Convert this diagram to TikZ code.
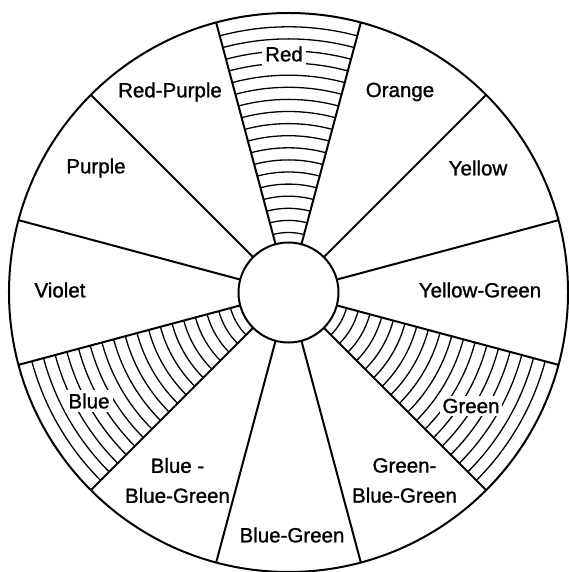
\documentclass[tikz,border=0pt]{standalone}
\usepackage{fontspec}
\setmainfont{Liberation Sans}
\newfontfamily\wheelfont[FakeBold=1.2]{Liberation Sans}
\begin{document}
\begin{tikzpicture}[x=1pt,y=1pt,
  rim/.style={line width=2pt},
  hatch/.style={line width=1.3pt},
  lbl/.style={font=\wheelfont\fontsize{20.5}{30}\selectfont, inner sep=1pt, align=center},
  gap/.style={lbl, fill=white, inner sep=3pt}]
\useasboundingbox (-288.5,-279.5) rectangle (279.5,292.5);
% hatched sectors: red, green, blue
\foreach \a in {90,-30,-150}
  \foreach \r in {60,72.1,...,266}
    \draw[hatch] (\a-15:\r) arc[start angle=\a-15, end angle=\a+15, radius=\r];
% spokes and rims
\foreach \a in {15,45,...,345}
  \draw[rim] (\a:50) -- (\a:279.5);
\draw[rim] (0,0) circle (279.5);
\draw[rim, fill=white] (0,0) circle (50);
% labels
\node[gap] (red) at (-4.5,238.5) {Red};
\node[lbl] (orange) at (111.5,200.5) {Orange};
\node[lbl] (yellow) at (189.5,124.5) {Yellow};
\node[lbl] (yellowgreen) at (191.5,2.5) {Yellow-Green};
\node[gap] (green) at (182.5,-113.5) {Green};
\node[lbl] (greenbg) at (116,-188) {Green-\\Blue-Green};
\node[lbl] (bluegreen) at (3.5,-242.5) {Blue-Green};
\node[lbl] (bluebg) at (-111,-188) {Blue -\\Blue-Green};
\node[gap] (blue) at (-199.5,-108.5) {Blue};
\node[lbl] (violet) at (-228.5,2.5) {Violet};
\node[lbl] (purple) at (-192.5,124.5) {Purple};
\node[lbl] (redpurple) at (-118.5,200.5) {Red-Purple};
\end{tikzpicture}
\end{document}
